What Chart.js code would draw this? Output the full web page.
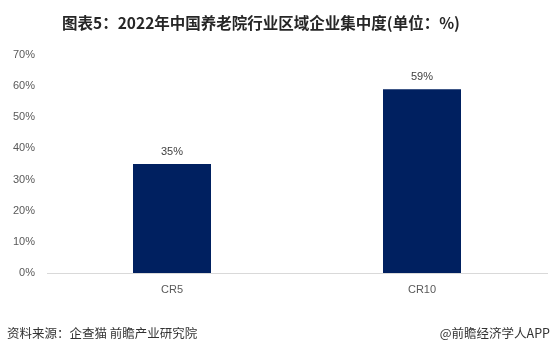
<!DOCTYPE html>
<html><head><meta charset="utf-8">
<script src="https://cdn.jsdelivr.net/npm/chart.js@4"></script>
<style>
html,body{margin:0;padding:0;background:#fff;}
#wrap{position:relative;width:555px;height:355px;overflow:hidden;}
#title{position:absolute;left:0;top:10px;width:522px;text-align:center;font:bold 15.5px "Noto Sans CJK SC",sans-serif;color:#262626;line-height:24px;}
#src{position:absolute;left:7px;top:324px;font:12.5px "Noto Sans CJK SC",sans-serif;color:#333;line-height:18px;}
#brand{position:absolute;right:5px;top:324px;font:12.5px "Noto Sans CJK SC",sans-serif;color:#333;line-height:18px;}
canvas{position:absolute;left:0;top:0;}
</style></head>
<body><div id="wrap">
<canvas id="c" width="555" height="355"></canvas>
<div id="title">图表5：2022年中国养老院行业区域企业集中度(单位：%)</div>
<div id="src">资料来源：企查猫 前瞻产业研究院</div>
<div id="brand">@前瞻经济学人APP</div>
</div>
<script>
const categories = ["CR5", "CR10"];
const values = [35, 59];
const yTicks = [0, 10, 20, 30, 40, 50, 60, 70];

const labelPlugin = {
  id: 'valLabels',
  afterDatasetsDraw(chart) {
    const ctx = chart.ctx;
    const meta = chart.getDatasetMeta(0);
    ctx.save();
    ctx.font = '11px "Liberation Sans", sans-serif';
    ctx.fillStyle = '#404040';
    ctx.textAlign = 'center';
    ctx.textBaseline = 'middle';
    meta.data.forEach((bar, i) => {
      ctx.fillText(values[i] + '%', bar.x, bar.y - 12);
    });
    ctx.restore();
  }
};

new Chart(document.getElementById('c'), {
  type: 'bar',
  data: {
    labels: categories,
    datasets: [{
      data: values,
      backgroundColor: '#002060',
      borderWidth: 0,
      categoryPercentage: 1,
      barPercentage: 0.312
    }]
  },
  options: {
    responsive: false,
    animation: false,
    events: [],
    layout: { padding: { top: 55, bottom: 52, left: 0, right: 8 } },
    plugins: { legend: { display: false }, tooltip: { enabled: false }, title: { display: false } },
    scales: {
      x: {
        grid: { display: false, drawTicks: false },
        border: { display: true, color: '#d9d9d9', width: 1 },
        ticks: { padding: 10, color: '#595959', font: { size: 11, family: '"Liberation Sans", sans-serif' } },
        afterFit(s) { s.height = 30; }
      },
      y: {
        min: 0, max: 70,
        afterBuildTicks(s) { s.ticks = yTicks.map(v => ({ value: v })); },
        grid: { display: false, drawTicks: false },
        border: { display: false },
        ticks: { padding: 12, color: '#595959', font: { size: 11, family: '"Liberation Sans", sans-serif' }, callback: v => v + '%' },
        afterFit(s) { s.width = 47; }
      }
    }
  },
  plugins: [labelPlugin]
});
</script>
</body></html>
